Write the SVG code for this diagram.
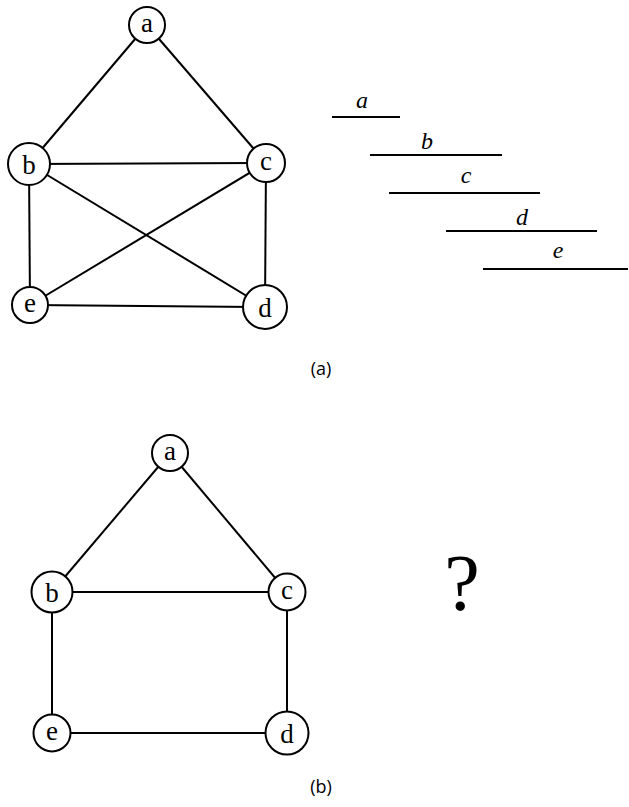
<svg xmlns="http://www.w3.org/2000/svg" width="629" height="807" viewBox="0 0 629 807">
<style>
.e{stroke:#000;stroke-width:2;fill:none}
.n circle{fill:#fff;stroke:#000;stroke-width:2}
.n text{font-family:"Liberation Serif",serif;font-size:27px;text-anchor:middle}
.iv{stroke:#000;stroke-width:2}
.it{font-family:"Liberation Serif",serif;font-style:italic;font-size:24px;text-anchor:middle}
.cap{font-family:"Open Sans","DejaVu Sans",sans-serif;font-size:18px;text-anchor:middle}
</style>
<rect width="629" height="807" fill="#fff"/>
<g id="edges-top">
<line class="e" x1="147" y1="25" x2="29" y2="164"/>
<line class="e" x1="147" y1="25" x2="266" y2="163"/>
<line class="e" x1="29" y1="164" x2="266" y2="163"/>
<line class="e" x1="29" y1="164" x2="30" y2="305"/>
<line class="e" x1="29" y1="164" x2="265" y2="307"/>
<line class="e" x1="266" y1="163" x2="30" y2="305"/>
<line class="e" x1="266" y1="163" x2="265" y2="307"/>
<line class="e" x1="30" y1="305" x2="265" y2="307"/>
</g>
<g id="ta" class="n"><circle cx="147" cy="25" r="18"/><text x="147" y="32">a</text></g>
<g id="tb" class="n"><circle cx="29" cy="164" r="21"/><text x="29" y="174">b</text></g>
<g id="tc" class="n"><circle cx="266" cy="163" r="19"/><text x="266" y="170">c</text></g>
<g id="te" class="n"><circle cx="30" cy="305" r="18"/><text x="30" y="312">e</text></g>
<g id="td" class="n"><circle cx="265" cy="307" r="22"/><text x="265" y="317">d</text></g>
<g id="intervals">
<line class="iv" x1="332" y1="117" x2="400" y2="117"/><text class="it" x="362" y="108">a</text>
<line class="iv" x1="370" y1="155" x2="502" y2="155"/><text class="it" x="427" y="149">b</text>
<line class="iv" x1="389" y1="193" x2="540" y2="193"/><text class="it" x="466" y="183">c</text>
<line class="iv" x1="446" y1="231" x2="597" y2="231"/><text class="it" x="522" y="225">d</text>
<line class="iv" x1="483" y1="269" x2="628" y2="269"/><text class="it" x="558" y="258">e</text>
</g>
<text class="cap" x="321" y="375">(a)</text>
<g id="edges-bottom">
<line class="e" x1="170" y1="453" x2="52" y2="592"/>
<line class="e" x1="170" y1="453" x2="287" y2="592"/>
<line class="e" x1="52" y1="592" x2="287" y2="592"/>
<line class="e" x1="52" y1="592" x2="52" y2="733"/>
<line class="e" x1="287" y1="592" x2="287" y2="733"/>
<line class="e" x1="52" y1="733" x2="287" y2="733"/>
</g>
<g id="ba" class="n"><circle cx="170" cy="453" r="18"/><text x="170" y="460">a</text></g>
<g id="bb" class="n"><circle cx="52" cy="592" r="20.5"/><text x="52" y="602">b</text></g>
<g id="bc" class="n"><circle cx="287" cy="592" r="18.5"/><text x="287" y="599">c</text></g>
<g id="be" class="n"><circle cx="52" cy="733" r="18.5"/><text x="52" y="740">e</text></g>
<g id="bd" class="n"><circle cx="287" cy="733" r="21.5"/><text x="287" y="743">d</text></g>
<text x="462" y="610" style="font-family:'Liberation Serif',serif;font-size:80px;text-anchor:middle">?</text>
<text class="cap" x="321" y="793">(b)</text>
</svg>
